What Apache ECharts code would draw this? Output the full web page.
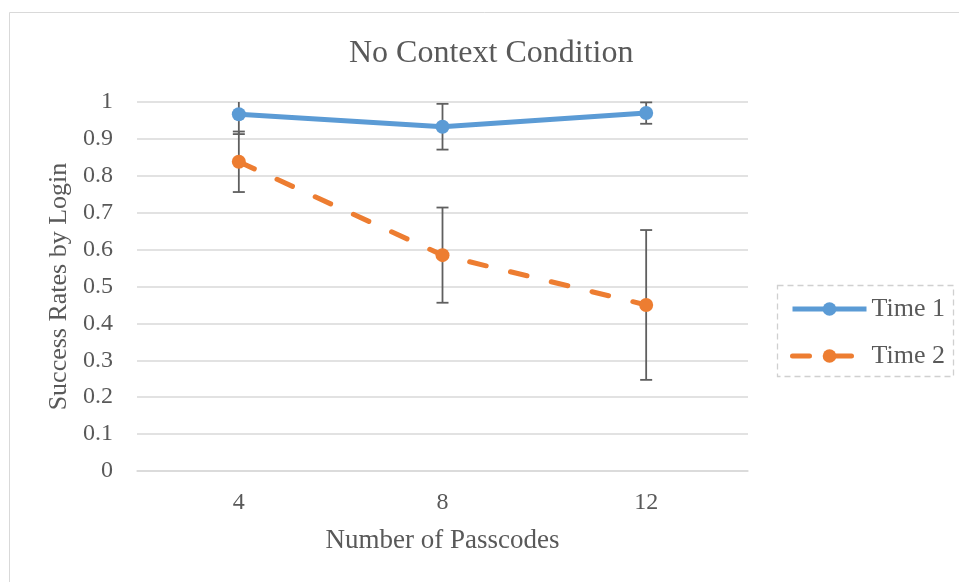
<!DOCTYPE html>
<html><head><meta charset="utf-8">
<script src="https://cdn.jsdelivr.net/npm/echarts@6/dist/echarts.min.js"></script>
<style>html,body{margin:0;padding:0;background:#fff}#c{width:959px;height:582px}</style>
</head><body><div id="c"></div>
<script>
const categories = ['4', '8', '12'];
const time1 = [0.967, 0.933, 0.970];
const time2 = [0.838, 0.585, 0.450];
const time1Err = [0.054, 0.062, 0.029];
const time2Err = [0.082, 0.129, 0.203];
const yTicks = [0, 0.1, 0.2, 0.3, 0.4, 0.5, 0.6, 0.7, 0.8, 0.9, 1];

const FONT = 'Liberation Serif';
const TXT = '#595959';
const YMAX = 1;

function errData(vals, errs) {
  return vals.map((v, i) => [i, v - errs[i], v + errs[i]]);
}
function renderErr(params, api) {
  const x = api.value(0);
  const lo = api.value(1);
  const hi = api.value(2);
  const clipHi = hi > YMAX;
  const pLo = api.coord([x, lo]);
  const pHi = api.coord([x, Math.min(hi, YMAX)]);
  const w = 6;
  const style = { stroke: '#5f5f5f', lineWidth: 1.8, fill: null };
  const children = [
    { type: 'line', shape: { x1: pLo[0], y1: pLo[1], x2: pHi[0], y2: pHi[1] }, style },
    { type: 'line', shape: { x1: pLo[0] - w, y1: pLo[1], x2: pLo[0] + w, y2: pLo[1] }, style }
  ];
  if (!clipHi) children.push({ type: 'line', shape: { x1: pHi[0] - w, y1: pHi[1], x2: pHi[0] + w, y2: pHi[1] }, style });
  return { type: 'group', children };
}

const chart = echarts.init(document.getElementById('c'));
chart.setOption({
  backgroundColor: '#fff',
  animation: false,
  textStyle: { fontFamily: FONT },
  title: {
    text: 'No Context Condition',
    left: 344, top: 33,
    textStyle: { fontFamily: FONT, fontSize: 32, fontWeight: 'normal', color: TXT }
  },
  grid: { left: 137, right: 211, top: 102, bottom: 111 },
  legend: {
    orient: 'vertical',
    left: 785, top: 291,
    itemWidth: 74, itemHeight: 17, itemGap: 21,
    lineStyle: { width: 5 },
    textStyle: { fontFamily: FONT, fontSize: 26, color: TXT, padding: [0,0,0,0] },
    data: ['Time 1', 'Time 2']
  },
  graphic: [
    { type: 'rect', shape: { x: 9.5, y: 12.5, width: 960, height: 580 }, style: { fill: null, stroke: '#d9d9d9', lineWidth: 1 }, silent: true, z: -10 },
    { type: 'rect', shape: { x: 777.5, y: 285.5, width: 176, height: 91 }, style: { fill: null, stroke: '#d0d0d0', lineWidth: 1.3, lineDash: [6, 4] }, silent: true }
  ],
  xAxis: {
    type: 'category',
    data: categories,
    name: 'Number of Passcodes',
    nameLocation: 'middle',
    nameGap: 56,
    nameTextStyle: { fontFamily: FONT, fontSize: 27, color: TXT },
    axisLine: { lineStyle: { color: '#d9d9d9', width: 1.5 } },
    axisTick: { show: false },
    axisLabel: { fontFamily: FONT, fontSize: 24, color: TXT, margin: 20 }
  },
  yAxis: {
    type: 'value',
    min: 0, max: 1, interval: 0.1,
    name: 'Success Rates by Login',
    nameLocation: 'middle',
    nameGap: 60,
    nameTextStyle: { fontFamily: FONT, fontSize: 26, color: TXT },
    axisLine: { show: false },
    axisTick: { show: false },
    splitLine: { lineStyle: { color: '#d9d9d9', width: 1.5 } },
    axisLabel: {
      fontFamily: FONT, fontSize: 24, color: TXT, margin: 24,
      formatter: v => { const t = yTicks.find(k => Math.abs(k - v) < 1e-6); return t === undefined ? '' : String(t); }
    }
  },
  series: [
    { type: 'custom', name: 'err1', renderItem: renderErr, data: errData(time1, time1Err), z: 1, silent: true },
    { type: 'custom', name: 'err2', renderItem: renderErr, data: errData(time2, time2Err), z: 1, silent: true },
    {
      name: 'Time 1', type: 'line', data: time1, z: 5,
      symbol: 'circle', symbolSize: 14,
      itemStyle: { color: '#5b9bd5' },
      lineStyle: { color: '#5b9bd5', width: 5 }
    },
    {
      name: 'Time 2', type: 'line', data: time2, z: 5,
      symbol: 'circle', symbolSize: 14,
      itemStyle: { color: '#ed7d31' },
      lineStyle: { color: '#ed7d31', width: 5, type: [17, 25], cap: 'round' }
    }
  ]
});
</script>
</body></html>
